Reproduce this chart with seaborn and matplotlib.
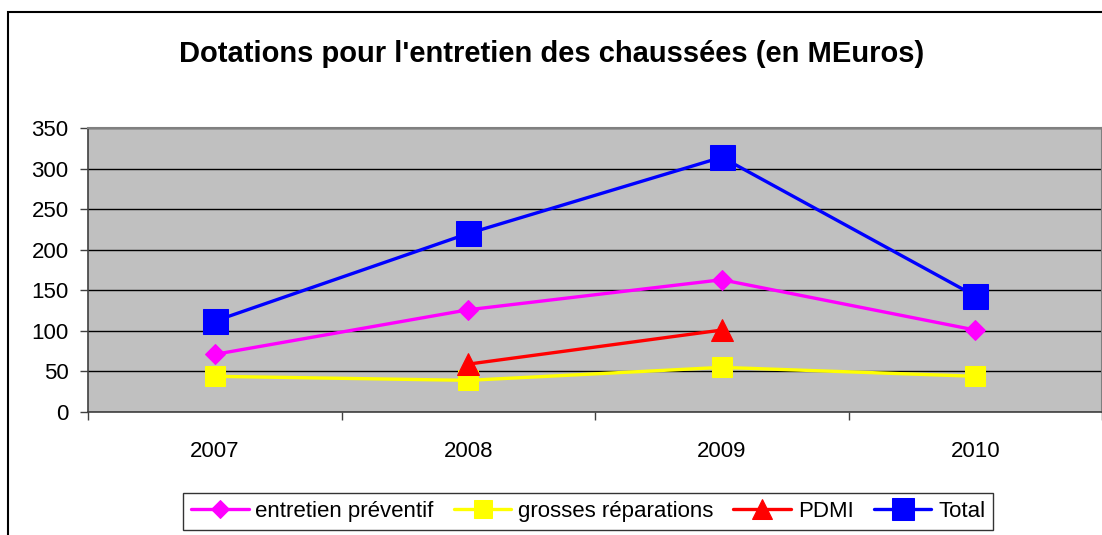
import matplotlib
matplotlib.use("Agg")
import matplotlib.pyplot as plt
import seaborn as sns
import pandas as pd
import numpy as np
from matplotlib.patches import Rectangle

years = ["2007", "2008", "2009", "2010"]
entretien = [71, 126, 163, 101]
grosses = [44, 39, 55, 44]
pdmi_years = ["2008", "2009"]
pdmi = [59, 101]
total = [112, 220, 314, 143]
yticks = [0, 50, 100, 150, 200, 250, 300, 350]
title = "Dotations pour l'entretien des chaussées (en MEuros)"

sns.set_theme(style="white")
plt.rcParams['font.family'] = ['Liberation Sans', 'DejaVu Sans']
plt.rcParams['text.color'] = 'black'
plt.rcParams['xtick.color'] = 'black'
plt.rcParams['ytick.color'] = 'black'

fig = plt.figure(figsize=(11.02, 5.35), dpi=100)
ax = fig.add_axes([88/1102, 123/535, 1014/1102, 284/535])
ax.set_facecolor("#C0C0C0")

series = [
    ("entretien préventif", years, entretien, "#FF00FF", "D", 10.5),
    ("grosses réparations", years, grosses, "#FFFF00", "s", 14),
    ("PDMI", pdmi_years, pdmi, "#FF0000", "^", 16),
    ("Total", years, total, "#0000FF", "s", 18),
]
for name, xs, ys, col, mk, ms in series:
    df = pd.DataFrame({"year": xs, "value": ys})
    sns.lineplot(data=df, x="year", y="value", ax=ax, color=col, marker=mk,
                 markersize=ms, markeredgecolor=col, linewidth=2.4, label=name,
                 sort=False)

ax.set_xlim(-0.5, 3.5)
ax.set_ylim(0, 350)
ax.set_yticks(yticks)
ax.yaxis.grid(True, color="black", linewidth=1)
ax.set_axisbelow(True)
ax.set_xlabel("")
ax.set_ylabel("")
ax.set_xticks(range(len(years)))
ax.set_xticklabels(years)
ax.set_xticks([-0.5, 0.5, 1.5, 2.5, 3.5], minor=True)
ax.tick_params(axis="x", which="major", length=0, pad=21, labelsize=16, labelcolor="black")
ax.tick_params(axis="x", which="minor", length=6, width=1, color="#404040", bottom=True)
ax.tick_params(axis="y", which="major", length=6, width=1, color="#404040", left=True, pad=8,
               labelsize=16, labelcolor="black")
for s in ["top", "right"]:
    ax.spines[s].set_color("#808080")
    ax.spines[s].set_linewidth(1.5)
for s in ["left", "bottom"]:
    ax.spines[s].set_color("#404040")
    ax.spines[s].set_linewidth(1.2)

fig.text(552/1102, 1 - 54/535, title, ha="center", va="center", fontsize=21,
         fontweight="bold", color="black")

leg = ax.legend(loc="upper center", bbox_to_anchor=(588/1102, 1 - 493/535),
                bbox_transform=fig.transFigure, ncol=4, frameon=True, fancybox=False,
                edgecolor="black", fontsize=16, handlelength=2.6, handletextpad=0.3,
                columnspacing=0.9, borderpad=0.35, borderaxespad=0, markerscale=0.9)
leg.get_frame().set_linewidth(1)
leg.get_frame().set_facecolor("white")
for t in leg.get_texts():
    t.set_color("black")

fig.add_artist(Rectangle((8/1102, -0.5), 2, 0.5 + (1 - 12/535), transform=fig.transFigure,
                         fill=False, edgecolor="black", linewidth=1.5))

fig.savefig("out.png", dpi=100)
